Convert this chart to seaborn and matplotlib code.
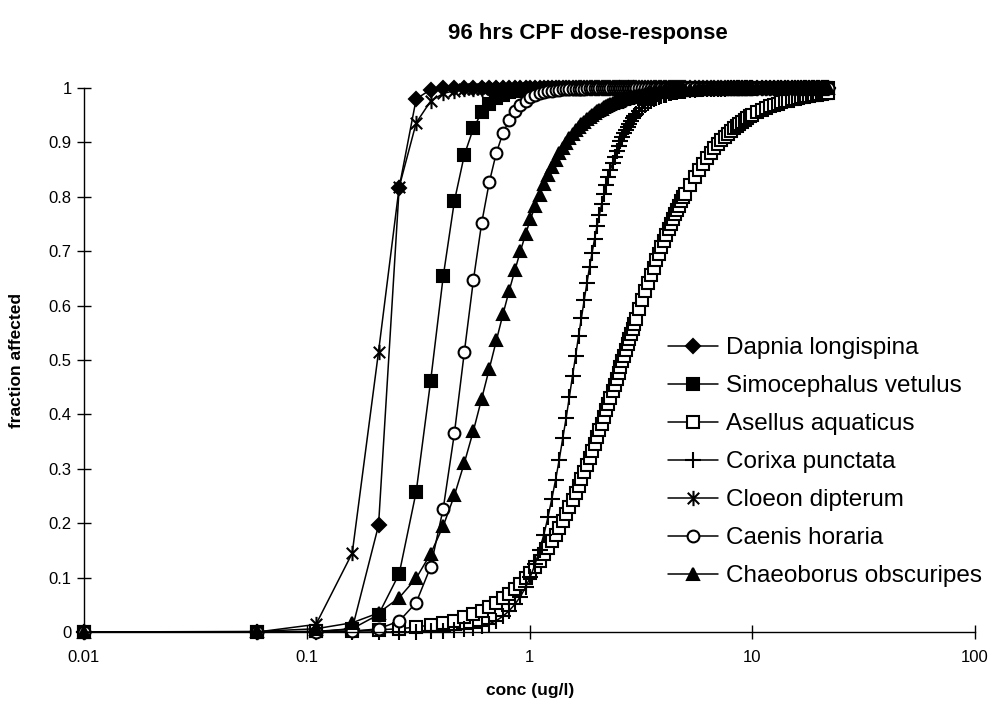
import matplotlib
matplotlib.use("Agg")
import matplotlib.pyplot as plt
from matplotlib.path import Path
from matplotlib.ticker import NullLocator, FixedLocator, FixedFormatter
import seaborn as sns

# concentration grid (ug/l)
conc = [
    0.01, 0.06, 0.11, 0.16, 0.21, 0.26, 0.31, 0.36, 0.41, 0.46,
    0.51, 0.56, 0.61, 0.66, 0.71, 0.76, 0.81, 0.86, 0.91, 0.96,
    1.01, 1.06, 1.11, 1.16, 1.21, 1.26, 1.31, 1.36, 1.41, 1.46,
    1.51, 1.56, 1.61, 1.66, 1.71, 1.76, 1.81, 1.86, 1.91, 1.96,
    2.01, 2.06, 2.11, 2.16, 2.21, 2.26, 2.31, 2.36, 2.41, 2.46,
    2.51, 2.56, 2.61, 2.66, 2.71, 2.76, 2.81, 2.86, 2.91, 2.96,
    3.01,
    3.11, 3.21, 3.31, 3.41, 3.51, 3.61, 3.71, 3.81, 3.91, 4.01,
    4.11, 4.21, 4.31, 4.41, 4.51, 4.61, 4.71, 4.81, 4.91, 5.01,
    5.26, 5.51, 5.76, 6.01, 6.26, 6.51, 6.76, 7.01, 7.26, 7.51,
    7.76, 8.01, 8.26, 8.51, 8.76, 9.01, 9.26, 9.51, 9.76, 10.01,
    10.51, 11.01, 11.51, 12.01, 12.51, 13.01, 13.51, 14.01, 14.51, 15.01,
    15.51, 16.01, 16.51, 17.01, 17.51, 18.01, 18.51, 19.01, 19.51, 20.01,
    20.51, 21.01, 21.51, 21.96,
]

dapnia = [
    0, 0, 0, 0.006, 0.196, 0.817, 0.980, 0.997, 1, 1,
    1, 1, 1, 1, 1, 1, 1, 1, 1, 1,
    1, 1, 1, 1, 1, 1, 1, 1, 1, 1,
    1, 1, 1, 1, 1, 1, 1, 1, 1, 1,
    1, 1, 1, 1, 1, 1, 1, 1, 1, 1,
    1, 1, 1, 1, 1, 1, 1, 1, 1, 1,
    1,
    1, 1, 1, 1, 1, 1, 1, 1, 1, 1,
    1, 1, 1, 1, 1, 1, 1, 1, 1, 1,
    1, 1, 1, 1, 1, 1, 1, 1, 1, 1,
    1, 1, 1, 1, 1, 1, 1, 1, 1, 1,
    1, 1, 1, 1, 1, 1, 1, 1, 1, 1,
    1, 1, 1, 1, 1, 1, 1, 1, 1, 1,
    1, 1, 1, 1,
]

simocephalus = [
    0, 0, 0.001, 0.006, 0.032, 0.107, 0.258, 0.462, 0.654, 0.792,
    0.877, 0.926, 0.955, 0.971, 0.982, 0.988, 0.992, 0.994, 0.996, 0.997,
    0.998, 0.998, 0.999, 0.999, 0.999, 1, 1, 1, 1, 1,
    1, 1, 1, 1, 1, 1, 1, 1, 1, 1,
    1, 1, 1, 1, 1, 1, 1, 1, 1, 1,
    1, 1, 1, 1, 1, 1, 1, 1, 1, 1,
    1,
    1, 1, 1, 1, 1, 1, 1, 1, 1, 1,
    1, 1, 1, 1, 1, 1, 1, 1, 1, 1,
    1, 1, 1, 1, 1, 1, 1, 1, 1, 1,
    1, 1, 1, 1, 1, 1, 1, 1, 1, 1,
    1, 1, 1, 1, 1, 1, 1, 1, 1, 1,
    1, 1, 1, 1, 1, 1, 1, 1, 1, 1,
    1, 1, 1, 1,
]

asellus = [
    0, 0, 0.001, 0.002, 0.004, 0.006, 0.009, 0.013, 0.017, 0.021,
    0.027, 0.033, 0.039, 0.046, 0.054, 0.062, 0.070, 0.079, 0.089, 0.099,
    0.109, 0.120, 0.131, 0.143, 0.155, 0.167, 0.179, 0.191, 0.204, 0.216,
    0.229, 0.242, 0.255, 0.268, 0.281, 0.294, 0.307, 0.320, 0.333, 0.346,
    0.358, 0.371, 0.383, 0.395, 0.408, 0.419, 0.431, 0.443, 0.454, 0.465,
    0.476, 0.487, 0.498, 0.508, 0.519, 0.529, 0.538, 0.548, 0.557, 0.567,
    0.576,
    0.593, 0.610, 0.626, 0.641, 0.656, 0.669, 0.683, 0.695, 0.707, 0.718,
    0.729, 0.740, 0.750, 0.759, 0.768, 0.776, 0.784, 0.792, 0.799, 0.806,
    0.822, 0.837, 0.850, 0.861, 0.872, 0.881, 0.890, 0.897, 0.904, 0.910,
    0.916, 0.921, 0.926, 0.930, 0.934, 0.938, 0.942, 0.945, 0.948, 0.950,
    0.955, 0.959, 0.963, 0.966, 0.969, 0.971, 0.974, 0.976, 0.977, 0.979,
    0.980, 0.982, 0.983, 0.984, 0.985, 0.986, 0.987, 0.987, 0.988, 0.989,
    0.989, 0.990, 0.990, 0.991,
]

corixa = [
    0, 0, 0, 0, 0, 0, 0, 0.001, 0.002, 0.003,
    0.005, 0.007, 0.011, 0.015, 0.021, 0.029, 0.039, 0.051, 0.065, 0.082,
    0.102, 0.125, 0.151, 0.179, 0.211, 0.245, 0.280, 0.317, 0.356, 0.393,
    0.432, 0.471, 0.507, 0.544, 0.577, 0.610, 0.641, 0.671, 0.697, 0.723,
    0.746, 0.767, 0.787, 0.805, 0.821, 0.836, 0.850, 0.862, 0.874, 0.884,
    0.893, 0.902, 0.910, 0.917, 0.923, 0.929, 0.934, 0.939, 0.944, 0.948,
    0.952,
    0.958, 0.964, 0.969, 0.973, 0.976, 0.979, 0.981, 0.983, 0.985, 0.987,
    0.988, 0.990, 0.991, 0.992, 0.993, 0.993, 0.994, 0.995, 0.995, 0.995,
    0.996, 0.997, 0.998, 0.998, 0.998, 0.999, 0.999, 0.999, 0.999, 0.999,
    1, 1, 1, 1, 1, 1, 1, 1, 1, 1,
    1, 1, 1, 1, 1, 1, 1, 1, 1, 1,
    1, 1, 1, 1, 1, 1, 1, 1, 1, 1,
    1, 1, 1, 1,
]

cloeon = [
    0, 0, 0.014, 0.145, 0.515, 0.818, 0.936, 0.976, 0.990, 0.995,
    0.998, 0.999, 0.999, 1, 1, 1, 1, 1, 1, 1,
    1, 1, 1, 1, 1, 1, 1, 1, 1, 1,
    1, 1, 1, 1, 1, 1, 1, 1, 1, 1,
    1, 1, 1, 1, 1, 1, 1, 1, 1, 1,
    1, 1, 1, 1, 1, 1, 1, 1, 1, 1,
    1,
    1, 1, 1, 1, 1, 1, 1, 1, 1, 1,
    1, 1, 1, 1, 1, 1, 1, 1, 1, 1,
    1, 1, 1, 1, 1, 1, 1, 1, 1, 1,
    1, 1, 1, 1, 1, 1, 1, 1, 1, 1,
    1, 1, 1, 1, 1, 1, 1, 1, 1, 1,
    1, 1, 1, 1, 1, 1, 1, 1, 1, 1,
    1, 1, 1, 1,
]

caenis = [
    0, 0, 0, 0.001, 0.006, 0.020, 0.054, 0.120, 0.227, 0.365,
    0.515, 0.647, 0.752, 0.827, 0.881, 0.917, 0.941, 0.958, 0.969, 0.977,
    0.983, 0.987, 0.990, 0.992, 0.994, 0.995, 0.996, 0.997, 0.998, 0.998,
    0.998, 0.999, 0.999, 0.999, 0.999, 0.999, 1, 1, 1, 1,
    1, 1, 1, 1, 1, 1, 1, 1, 1, 1,
    1, 1, 1, 1, 1, 1, 1, 1, 1, 1,
    1,
    1, 1, 1, 1, 1, 1, 1, 1, 1, 1,
    1, 1, 1, 1, 1, 1, 1, 1, 1, 1,
    1, 1, 1, 1, 1, 1, 1, 1, 1, 1,
    1, 1, 1, 1, 1, 1, 1, 1, 1, 1,
    1, 1, 1, 1, 1, 1, 1, 1, 1, 1,
    1, 1, 1, 1, 1, 1, 1, 1, 1, 1,
    1, 1, 1, 1,
]

chaeoborus = [
    0, 0.001, 0.006, 0.017, 0.035, 0.063, 0.099, 0.144, 0.195, 0.251,
    0.311, 0.370, 0.429, 0.484, 0.536, 0.584, 0.627, 0.665, 0.700, 0.731,
    0.759, 0.783, 0.804, 0.823, 0.840, 0.855, 0.868, 0.880, 0.890, 0.899,
    0.908, 0.915, 0.922, 0.928, 0.933, 0.938, 0.943, 0.947, 0.950, 0.954,
    0.957, 0.960, 0.962, 0.965, 0.967, 0.969, 0.970, 0.972, 0.974, 0.975,
    0.977, 0.978, 0.979, 0.980, 0.981, 0.982, 0.983, 0.984, 0.984, 0.985,
    0.986,
    0.987, 0.988, 0.989, 0.990, 0.991, 0.992, 0.992, 0.993, 0.993, 0.994,
    0.994, 0.995, 0.995, 0.995, 0.995, 0.996, 0.996, 0.996, 0.996, 0.997,
    0.997, 0.997, 0.998, 0.998, 0.998, 0.998, 0.999, 0.999, 0.999, 0.999,
    0.999, 0.999, 0.999, 0.999, 0.999, 0.999, 0.999, 0.999, 0.999, 1,
    1, 1, 1, 1, 1, 1, 1, 1, 1, 1,
    1, 1, 1, 1, 1, 1, 1, 1, 1, 1,
    1, 1, 1, 1,
]

species = ["Dapnia longispina", "Simocephalus vetulus", "Asellus aquaticus",
           "Corixa punctata", "Cloeon dipterum", "Caenis horaria",
           "Chaeoborus obscuripes"]
series = [dapnia, simocephalus, asellus, corixa, cloeon, caenis, chaeoborus]

x_ticks = [0.01, 0.1, 1, 10, 100]
x_tick_labels = ["0.01", "0.1", "1", "10", "100"]
y_ticks = [0, 0.1, 0.2, 0.3, 0.4, 0.5, 0.6, 0.7, 0.8, 0.9, 1]
y_tick_labels = ["0", "0.1", "0.2", "0.3", "0.4", "0.5", "0.6", "0.7", "0.8", "0.9", "1"]

sns.set_theme(style="white")
plt.rcParams['font.family'] = ['Liberation Sans', 'DejaVu Sans']
plt.rcParams['text.color'] = 'black'

W, H = 992, 706
fig = plt.figure(figsize=(W / 100, H / 100), dpi=100)
fig.patch.set_facecolor("white")
ax = fig.add_axes([84 / W, 1 - 632 / H, (975 - 84) / W, (632 - 88) / H])

asterisk = Path([(0, -1), (0, 1), (-0.75, -0.75), (0.75, 0.75), (-0.75, 0.75), (0.75, -0.75)],
                [Path.MOVETO, Path.LINETO] * 3)

styles = {
    "Dapnia longispina": dict(marker="D", ms=7, mfc="black"),
    "Simocephalus vetulus": dict(marker="s", ms=8, mfc="black"),
    "Asellus aquaticus": dict(marker="s", ms=8, mfc="white"),
    "Corixa punctata": dict(marker="+", ms=11, mfc="black"),
    "Cloeon dipterum": dict(marker=asterisk, ms=11, mfc="black"),
    "Caenis horaria": dict(marker="o", ms=8.5, mfc="white"),
    "Chaeoborus obscuripes": dict(marker="^", ms=9, mfc="black"),
}

for name, vals in zip(species, series):
    st = styles[name]
    sns.lineplot(x=conc, y=vals, ax=ax, color="black", linewidth=1.1,
                 marker=st["marker"], markersize=st["ms"],
                 markerfacecolor=st["mfc"], markeredgecolor="black",
                 markeredgewidth=1.5, label=name, errorbar=None, clip_on=False)

ax.set_xscale("log")
ax.set_xlim(0.01, 100)
ax.set_ylim(0, 1)
ax.xaxis.set_major_locator(FixedLocator(x_ticks))
ax.xaxis.set_major_formatter(FixedFormatter(x_tick_labels))
ax.xaxis.set_minor_locator(NullLocator())
ax.yaxis.set_major_locator(FixedLocator(y_ticks))
ax.yaxis.set_major_formatter(FixedFormatter(y_tick_labels))
ax.yaxis.set_minor_locator(NullLocator())
ax.set_xlabel("")
ax.set_ylabel("")

for s in ["top", "right"]:
    ax.spines[s].set_visible(False)
for s in ["left", "bottom"]:
    ax.spines[s].set_color("black")
    ax.spines[s].set_linewidth(1.0)

ax.tick_params(axis="both", which="major", direction="inout", length=10, width=1,
               color="black", labelcolor="black", labelsize=12,
               bottom=True, left=True, top=False, right=False)
ax.tick_params(axis="x", pad=8)
ax.tick_params(axis="y", pad=4)
ax.set_facecolor("white")

fig.text(588 / W, 1 - 33 / H, "96 hrs CPF dose-response", ha="center", va="center",
         fontsize=16, fontweight="bold", color="black")
fig.text(17 / W, 1 - 360 / H, "fraction affected", ha="center", va="center",
         rotation=90, fontsize=12.5, fontweight="bold", color="black")
fig.text(530 / W, 1 - 690 / H, "conc (ug/l)", ha="center", va="center",
         fontsize=12.5, fontweight="bold", color="black")

handles, labels = ax.get_legend_handles_labels()
ax.legend(handles, labels, loc="upper left", bbox_to_anchor=(668 / W, 1 - 337 / H),
          bbox_transform=fig.transFigure, frameon=False, fontsize=17.5,
          handlelength=2.05, handletextpad=0.33, labelspacing=0.66,
          borderpad=0, borderaxespad=0, numpoints=1, labelcolor="black")

fig.savefig("out.png", dpi=100, facecolor="white")
